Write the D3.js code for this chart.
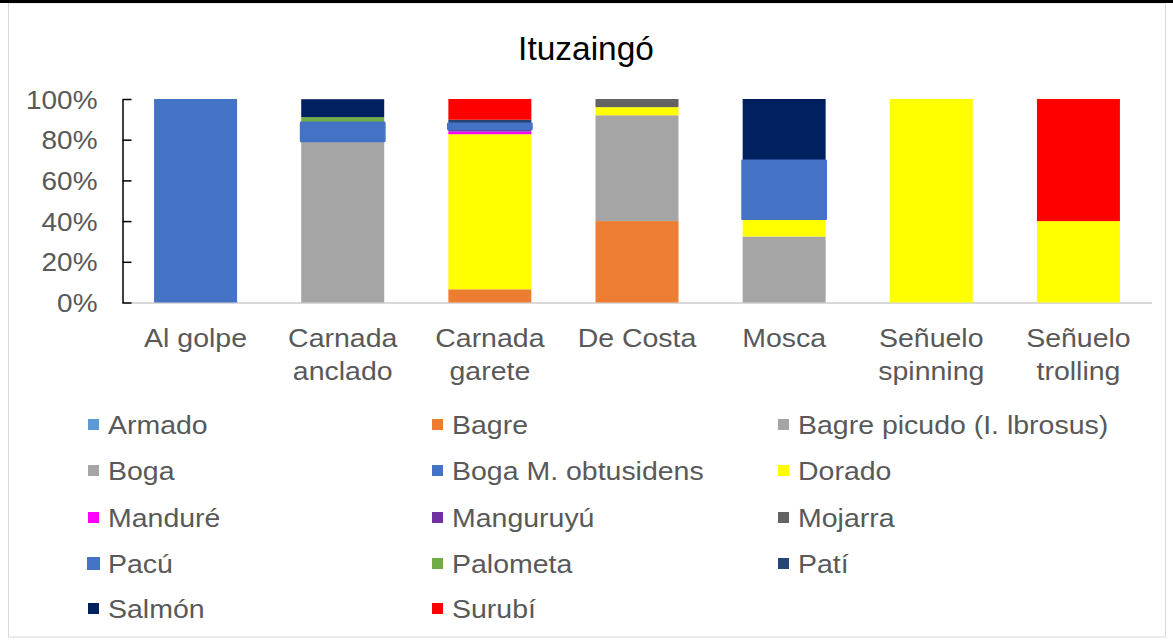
<!DOCTYPE html>
<html>
<head>
<meta charset="utf-8">
<script src="https://cdn.jsdelivr.net/npm/d3@7/dist/d3.min.js"></script>
<style>
  html, body { margin: 0; padding: 0; background: #fff; }
  svg text { font-family: "Liberation Sans", Arial, sans-serif; }
</style>
</head>
<body>
<svg id="chart" width="1173" height="641"></svg>
<script>
const title = "Ituzaingó";
const categories = ["Al golpe", "Carnada anclado", "Carnada garete", "De Costa", "Mosca", "Señuelo spinning", "Señuelo trolling"];
const categoryLines = [["Al golpe"], ["Carnada", "anclado"], ["Carnada", "garete"], ["De Costa"], ["Mosca"], ["Señuelo", "spinning"], ["Señuelo", "trolling"]];
const species = ["Armado", "Bagre", "Bagre picudo (I. lbrosus)", "Boga", "Boga M. obtusidens", "Dorado", "Manduré", "Manguruyú", "Mojarra", "Pacú", "Palometa", "Patí", "Salmón", "Surubí"];
const speciesColors = ["#5B9BD5", "#ED7D31", "#A5A5A5", "#A5A5A5", "#4472C4", "#FFFF00", "#FF00FF", "#7030A0", "#636363", "#4472C4", "#70AD47", "#264478", "#002060", "#FF0000"];
const armado      = [0, 0, 0, 0, 0, 0, 0];
const bagre       = [0, 0, 6.5, 40, 0, 0, 0];
const bagrePicudo = [0, 0, 0, 52, 0, 0, 0];
const boga        = [0, 79.4, 0, 0, 32.4, 0, 0];
const bogaM       = [100, 0, 0, 0, 0, 0, 0];
const dorado      = [0, 0, 76.2, 4, 8.8, 100, 40];
const mandure     = [0, 0, 1.3, 0, 0, 0, 0];
const manguruyu   = [0, 0, 1.3, 0, 0, 0, 0];
const mojarra     = [0, 0, 0, 4, 0, 0, 0];
const pacu        = [0, 8.8, 2.5, 0, 28.4, 0, 0];
const palometa    = [0, 2.9, 0, 0, 0, 0, 0];
const pati        = [0, 0, 2.0, 0, 0, 0, 0];
const salmon      = [0, 8.8, 0, 0, 30.4, 0, 0];
const surubi      = [0, 0, 10.2, 0, 0, 0, 60];
const yTicks = [0, 20, 40, 60, 80, 100];
const yTickLabels = ["0%", "20%", "40%", "60%", "80%", "100%"];

const seriesValues = [armado, bagre, bagrePicudo, boga, bogaM, dorado, mandure, manguruyu, mojarra, pacu, palometa, pati, salmon, surubi];
const strokedSeries = "Pacú";

const svg = d3.select("#chart");
const textColor = "#595959";
const sx = 1.075;

// frame
svg.append("rect").attr("x", 8.5).attr("y", 3).attr("width", 1157).attr("height", 634)
  .attr("fill", "none").attr("stroke", "#d9d9d9").attr("stroke-width", 1);
svg.append("rect").attr("x", 0).attr("y", 0).attr("width", 1173).attr("height", 3).attr("fill", "#000");

// title
svg.append("text").attr("transform", "translate(586,60) scale(1.03,1)").attr("text-anchor", "middle")
  .attr("font-size", 32.5).attr("fill", "#000").text(title);

// table
const table = categories.map((c, i) => {
  const row = { category: c };
  species.forEach((s, j) => { row[s] = seriesValues[j][i]; });
  return row;
});
const stack = d3.stack().keys(species)(table);

const x = d3.scaleBand().domain(categories).range([122, 1152]).paddingInner(0.436).paddingOuter(0.218);
const y = d3.scaleLinear().domain([0, 100]).range([302.5, 99]);

// baseline
svg.append("line").attr("x1", 122).attr("x2", 1152).attr("y1", y(0) + 0.5).attr("y2", y(0) + 0.5)
  .attr("stroke", "#d9d9d9").attr("stroke-width", 2);

// bars (stroked series drawn last)
const ordered = stack.filter(s => s.key !== strokedSeries).concat(stack.filter(s => s.key === strokedSeries));
ordered.forEach(s => {
  const idx = species.indexOf(s.key);
  const isStroked = s.key === strokedSeries;
  svg.append("g").selectAll("rect").data(s.filter(d => d[1] - d[0] > 0)).join("rect")
    .attr("x", d => x(d.data.category))
    .attr("width", x.bandwidth())
    .attr("y", d => y(d[1]))
    .attr("height", d => y(d[0]) - y(d[1]))
    .attr("fill", speciesColors[idx])
    .attr("stroke", isStroked ? speciesColors[idx] : "none")
    .attr("stroke-width", isStroked ? 2.8 : 0)
    .attr("stroke-linejoin", "round");
});

// y axis
const yAxis = d3.axisLeft(y).tickValues(yTicks).tickFormat((d, i) => yTickLabels[i]).tickSizeInner(-9).tickSizeOuter(0).tickPadding(0);
const ga = svg.append("g").attr("transform", "translate(122.5,0)").call(yAxis);
ga.select(".domain").attr("stroke", "#000").attr("stroke-width", 1.5);
ga.selectAll(".tick line").attr("stroke", "#000").attr("stroke-width", 1.5);
ga.selectAll(".tick text").attr("x", 0).attr("transform", `translate(-25,0) scale(${sx},1)`)
  .attr("font-size", 26).attr("fill", textColor)
  .attr("font-family", "Liberation Sans, Arial, sans-serif").attr("dy", "0.35em");

// x labels
const xl = svg.append("g");
categories.forEach((c, i) => {
  const cx = x(c) + x.bandwidth() / 2;
  categoryLines[i].forEach((line, k) => {
    xl.append("text").attr("text-anchor", "middle")
      .attr("transform", `translate(${cx},${347 + k * 33}) scale(${sx},1)`)
      .attr("font-size", 26.5).attr("fill", textColor).text(line);
  });
});

// legend
const colX = [88, 432, 778];
const rowY = [425, 471, 518, 564, 609];
const lg = svg.append("g");
species.forEach((s, i) => {
  const col = i % 3, row = Math.floor(i / 3);
  const isStroked = s === strokedSeries;
  lg.append("rect").attr("x", colX[col]).attr("y", rowY[row] - 6).attr("width", 11).attr("height", 11)
    .attr("fill", speciesColors[i])
    .attr("stroke", isStroked ? speciesColors[i] : "none").attr("stroke-width", isStroked ? 2 : 0);
  lg.append("text").attr("transform", `translate(${colX[col] + 20},${rowY[row]}) scale(${sx},1)`).attr("dy", "0.35em")
    .attr("font-size", 26.5).attr("fill", textColor).text(s);
});
</script>
</body>
</html>
